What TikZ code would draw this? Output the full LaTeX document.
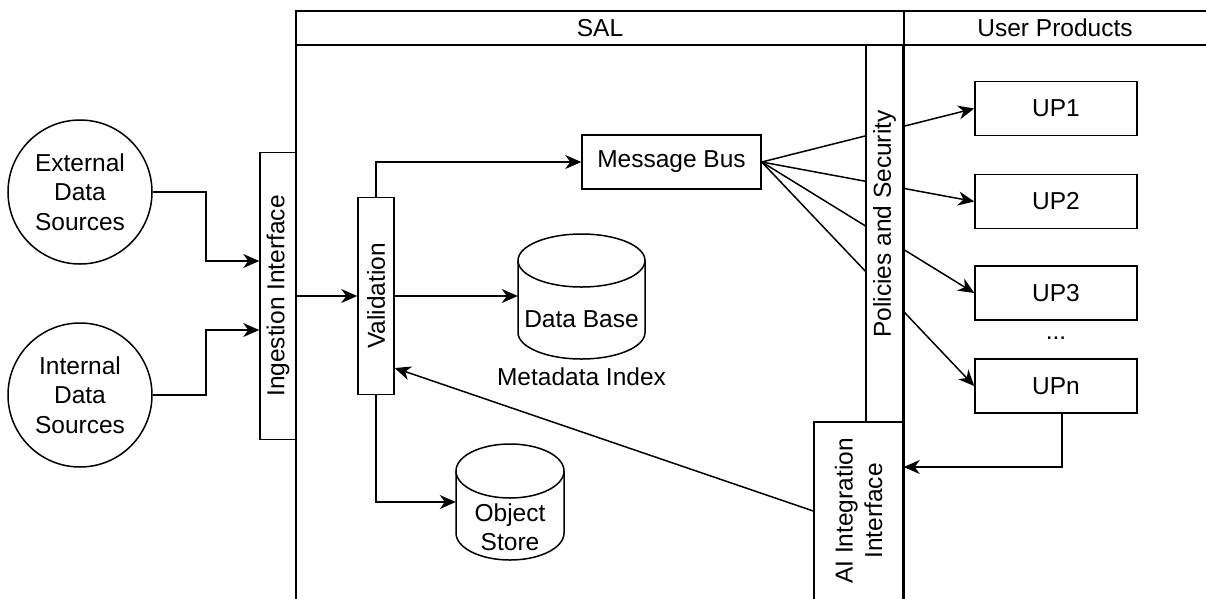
\documentclass[tikz,border=0pt]{standalone}
\usepackage{fontspec}
\setmainfont{Liberation Sans}
\usetikzlibrary{arrows.meta}
\begin{document}
\begin{tikzpicture}[x=1pt,y=1pt,
  every node/.style={font=\fontsize{24.5}{29.5}\selectfont, inner sep=0pt},
  line/.style={line width=1.5pt, line join=miter},
  box/.style={line, draw, fill=white, rectangle},
  src/.style={line, draw, fill=white, circle, minimum size=144pt, align=center},
  arr/.style={line, -{Stealth[length=16pt,width=14pt,inset=5pt]}},
  txt/.style={align=center}]
\useasboundingbox (0,0) rectangle (1206,-598);
\clip (0,0) rectangle (1206,-598);
\fill[white] (0,0) rectangle (1206,-598);

% swimlanes
\draw[line] (296,-620) -- (296,-11) -- (1230,-11);
\draw[line] (296,-45) -- (1230,-45);
\draw[line] (904,-11) -- (904,-620);
\node[txt] (salhead) at (600,-28) {SAL};
\node[txt] (uphead) at (1055,-28) {User Products};

% data sources
\node[src] (ext) at (80,-192) {External\\Data\\Sources};
\node[src] (int) at (80,-395) {Internal\\Data\\Sources};

% ingestion and validation
\node[box, minimum width=36pt, minimum height=287pt] (ing) at (278,-296) {};
\node[rotate=90] (ingtxt) at (ing) {Ingestion Interface};
\node[box, minimum width=36pt, minimum height=197pt] (val) at (376,-296) {};
\node[rotate=90] (valtxt) at (val) {Validation};

% message bus
\node[box, minimum width=179pt, minimum height=54pt] (mb) at (671.5,-162) {Message Bus};

% data base cylinder
\node[minimum width=127pt, minimum height=125pt] (db) at (581.5,-296.5) {};
\filldraw[line, fill=white] (518,-260.5) -- (518,-332.5)
  arc[start angle=180, end angle=360, x radius=63.5, y radius=26.5]
  -- (645,-260.5) arc[start angle=0, end angle=180, x radius=63.5, y radius=26.5];
\draw[line] (518,-260.5) arc[start angle=180, end angle=360, x radius=63.5, y radius=26.5];
\node[txt] (dbtxt) at (581.5,-319) {Data Base};
\node[txt] (mdi) at (581.5,-377) {Metadata Index};

% object store cylinder
\node[minimum width=108pt, minimum height=116pt] (os) at (510,-502) {};
\filldraw[line, fill=white] (456,-471) -- (456,-533)
  arc[start angle=180, end angle=360, x radius=54, y radius=27]
  -- (564,-471) arc[start angle=0, end angle=180, x radius=54, y radius=27];
\draw[line] (456,-471) arc[start angle=180, end angle=360, x radius=54, y radius=27];
\node[txt] (ostxt) at (510,-527) {Object\\Store};

% user products
\node[box, minimum width=162pt, minimum height=54pt] (up1) at (1056,-108.5) {UP1};
\node[box, minimum width=162pt, minimum height=54pt] (up2) at (1056,-201.5) {UP2};
\node[box, minimum width=162pt, minimum height=54pt] (up3) at (1056,-293) {UP3};
\node[txt] (dots) at (1056,-338) {...};
\node[box, minimum width=162pt, minimum height=54pt] (upn) at (1056,-386) {UPn};

% message bus fan-out to the user products
\draw[arr] (mb.east) -- (up1.west);
\draw[arr] (mb.east) -- (up2.west);
\draw[arr] (mb.east) -- (up3.west);
\draw[arr] (mb.east) -- (upn.west);

% policies and AI integration
\node[box, minimum width=37pt, minimum height=377pt] (ps) at (884.5,-233.5) {};
\node[rotate=90] (pstxt) at (884.5,-224) {Policies and Security};
\node[box, minimum width=89pt, minimum height=178pt] (ai) at (858.5,-511) {};
\node[rotate=90, txt] (aitxt) at (ai) {AI Integration\\Interface};

% connectors
\draw[arr] (ext.east) -- ++(53,0) |- ([yshift=35pt]ing.west);
\draw[arr] (int.east) -- ++(53,0) |- ([yshift=-34pt]ing.west);
\draw[arr] (ing.east) -- (val.west);
\draw[arr] (val.north) |- (mb.west);
\draw[arr] (val.east) -- (val.east -| db.west);
\draw[arr] (val.south) |- (os.west);
\draw[arr] (ai.west) -- ([yshift=-72pt]val.east);
\draw[arr] ([xshift=6pt]upn.south) |- ([yshift=44pt]ai.east);
\end{tikzpicture}
\end{document}
